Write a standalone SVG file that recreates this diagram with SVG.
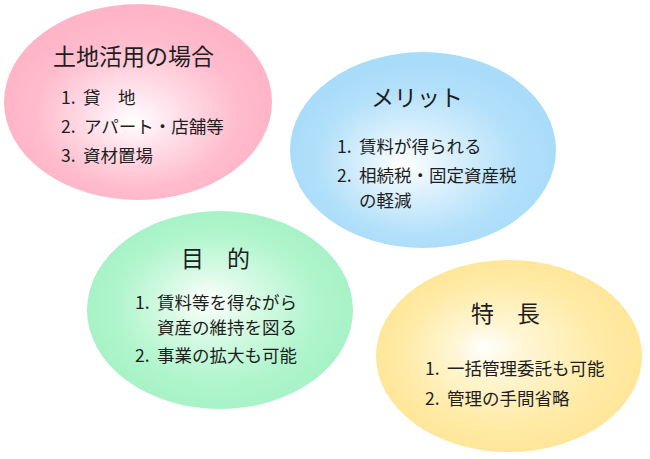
<svg xmlns="http://www.w3.org/2000/svg" width="650" height="459" viewBox="0 0 650 459">
<style>
text{font-family:"Noto Sans CJK JP","Noto Sans",sans-serif;fill:#1e1e1e}
.t{font-size:23px}
.i{font-size:17.5px}
</style>
<defs>
<radialGradient id="gPink" cx="0.5" cy="0.55" r="0.5" fx="0.48" fy="0.6">
<stop offset="0" stop-color="#ffffff"/>
<stop offset="0.25" stop-color="#ffe6ee"/>
<stop offset="0.75" stop-color="#ffbccd"/>
<stop offset="1" stop-color="#ffb4c7"/>
</radialGradient>
<radialGradient id="gBlue" cx="0.5" cy="0.55" r="0.5" fx="0.42" fy="0.58">
<stop offset="0" stop-color="#ffffff"/>
<stop offset="0.25" stop-color="#e2f3fd"/>
<stop offset="0.75" stop-color="#b2e0fa"/>
<stop offset="1" stop-color="#a9dcf9"/>
</radialGradient>
<radialGradient id="gGreen" cx="0.5" cy="0.5" r="0.5" fx="0.45" fy="0.45">
<stop offset="0" stop-color="#ffffff"/>
<stop offset="0.25" stop-color="#e0fbe9"/>
<stop offset="0.75" stop-color="#b0f5cd"/>
<stop offset="1" stop-color="#a7f2c6"/>
</radialGradient>
<radialGradient id="gYellow" cx="0.5" cy="0.5" r="0.5" fx="0.4" fy="0.45">
<stop offset="0" stop-color="#ffffff"/>
<stop offset="0.25" stop-color="#fff6d6"/>
<stop offset="0.75" stop-color="#ffeba6"/>
<stop offset="1" stop-color="#ffe699"/>
</radialGradient>
</defs>
<rect width="650" height="459" fill="#ffffff"/>

<g id="node-land">
<ellipse cx="138" cy="102" rx="134" ry="98" fill="url(#gPink)"/>
<text class="t" x="53" y="65">土地活用の場合</text>
<text class="i" x="61" y="104">1.</text><text class="i" x="83" y="104">貸　地</text>
<text class="i" x="61" y="133">2.</text><text class="i" x="84" y="133">アパート・店舗等</text>
<text class="i" x="61" y="162">3.</text><text class="i" x="83" y="162">資材置場</text>
</g>

<g id="node-merit">
<ellipse cx="423" cy="150" rx="133" ry="98" fill="url(#gBlue)"/>
<text class="t" x="371" y="106">メリット</text>
<text class="i" x="337" y="153">1.</text><text class="i" x="359" y="153">賃料が得られる</text>
<text class="i" x="337" y="182">2.</text><text class="i" x="359" y="182">相続税・固定資産税</text>
<text class="i" x="359" y="207">の軽減</text>
</g>

<g id="node-purpose">
<ellipse cx="220" cy="310" rx="133" ry="99" fill="url(#gGreen)"/>
<text class="t" x="181" y="267">目　的</text>
<text class="i" x="135" y="309">1.</text><text class="i" x="157" y="309">賃料等を得ながら</text>
<text class="i" x="157" y="334">資産の維持を図る</text>
<text class="i" x="135" y="362">2.</text><text class="i" x="157" y="362">事業の拡大も可能</text>
</g>

<g id="node-feature">
<ellipse cx="509" cy="356" rx="133" ry="96" fill="url(#gYellow)"/>
<text class="t" x="471" y="322">特　長</text>
<text class="i" x="425" y="375">1.</text><text class="i" x="447" y="375">一括管理委託も可能</text>
<text class="i" x="425" y="405">2.</text><text class="i" x="447" y="405">管理の手間省略</text>
</g>
</svg>
